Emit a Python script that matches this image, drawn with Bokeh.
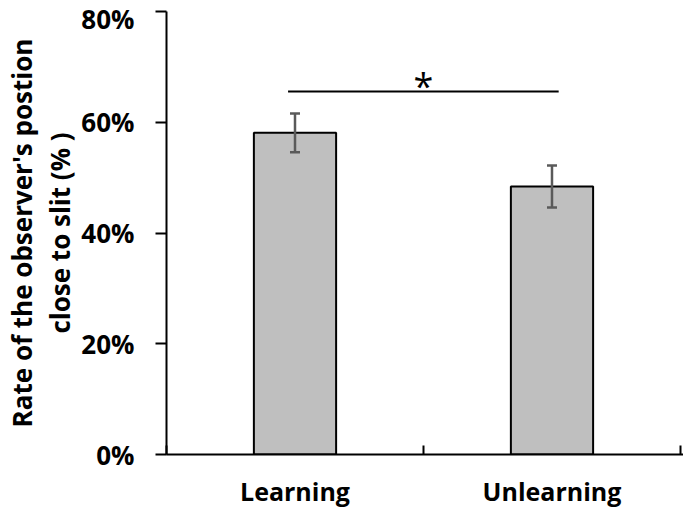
from bokeh.plotting import figure
from bokeh.models import Range1d, LinearAxis, FixedTicker, Whisker, ColumnDataSource
from bokeh.embed import file_html
from bokeh.resources import INLINE
from bokeh.core.properties import value

categories = ["Learning", "Unlearning"]
means = [0.581, 0.484]
errors = [0.035, 0.038]
y_ticks = [0, 0.2, 0.4, 0.6, 0.8]
y_tick_labels = ["0%", "20%", "40%", "60%", "80%"]
sig_left, sig_right, sig_y = 0.473, 1.526, 0.6555
sig_mark = "*"

FONT = "Open Sans"
xc = [i + 0.5 for i in range(len(categories))]
x_bounds = [float(i) for i in range(len(categories) + 1)]

p = figure(width=683, height=512, output_backend="svg", toolbar_location=None,
           x_range=Range1d(0, 2.0117), y_range=Range1d(0, 0.8),
           min_border_left=165, min_border_top=11, min_border_right=0, min_border_bottom=58)
p.outline_line_color = None
p.grid.visible = False
p.background_fill_color = "white"

src = ColumnDataSource(dict(x=xc, top=means, upper=[m + e for m, e in zip(means, errors)],
                            lower=[m - e for m, e in zip(means, errors)]))
p.vbar(x="x", top="top", width=0.32, bottom=0, source=src, fill_color="#bfbfbf",
       line_color="black", line_width=2)
w = Whisker(base="x", upper="upper", lower="lower", source=src, line_color="#5a5a5a",
            line_width=2.5, level="overlay")
for h in (w.upper_head, w.lower_head):
    h.size = 10
    h.line_color = "#5a5a5a"
    h.line_width = 2.5
p.add_layout(w)

p.segment(x0=[sig_left], x1=[sig_right], y0=[sig_y], y1=[sig_y], line_color="black", line_width=2)
p.text(x=[(sig_left + sig_right) / 2], y=[sig_y], text=[sig_mark], text_font=value(FONT),
       text_font_size="36px", text_align="center", text_baseline="bottom", y_offset=18,
       text_color="black")

# y axis
ya = p.yaxis[0]
ya.ticker = FixedTicker(ticks=y_ticks)
ya.major_label_overrides = {t: l for t, l in zip(y_ticks, y_tick_labels)}
ya.major_tick_in = 0
ya.major_tick_out = 11
ya.minor_tick_out = 0
ya.minor_tick_in = 0
ya.axis_line_width = 2
ya.major_tick_line_width = 2
ya.axis_line_color = "black"
ya.major_tick_line_color = "black"
ya.major_label_standoff = 21
ya.major_label_text_font = FONT
ya.major_label_text_font_style = "bold"
ya.major_label_text_font_size = "26px"
ya.major_label_text_color = "black"
ya.axis_label = "close to slit (% )"
ya.axis_label_text_font = FONT
ya.axis_label_text_font_style = "bold"
ya.axis_label_text_font_size = "26px"
ya.axis_label_text_color = "black"
ya.axis_label_standoff = 0

ya2 = LinearAxis(ticker=FixedTicker(ticks=[]), axis_line_color=None, major_tick_in=0, major_tick_out=0,
                 minor_tick_in=0, minor_tick_out=0, major_label_standoff=0,
                 axis_label="Rate of the observer's postion",
                 axis_label_text_font=FONT, axis_label_text_font_style="bold",
                 axis_label_text_font_size="26px", axis_label_text_color="black",
                 axis_label_standoff=0)
p.add_layout(ya2, "left")

# x axis: labels at category centres, tick marks between categories
xa = p.xaxis[0]
xa.ticker = FixedTicker(ticks=xc, minor_ticks=x_bounds)
xa.major_label_overrides = {x: c for x, c in zip(xc, categories)}
xa.major_tick_in = 0
xa.major_tick_out = 0
xa.minor_tick_in = 9
xa.minor_tick_out = 0
xa.axis_line_width = 2
xa.minor_tick_line_width = 2
xa.axis_line_color = "black"
xa.minor_tick_line_color = "black"
xa.major_label_standoff = 19
xa.major_label_text_font = FONT
xa.major_label_text_font_style = "bold"
xa.major_label_text_font_size = "25px"
xa.major_label_text_color = "black"

open("out.html", "w").write(file_html(p, INLINE))
